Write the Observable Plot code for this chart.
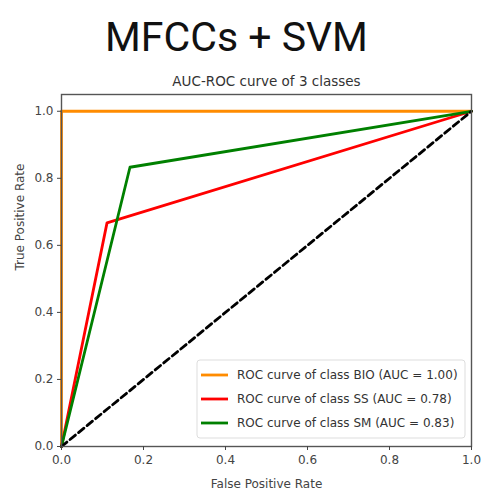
<!DOCTYPE html>
<html>
<head>
<meta charset="utf-8">
<script src="https://cdn.jsdelivr.net/npm/d3@7"></script>
<script src="https://cdn.jsdelivr.net/npm/@observablehq/plot@0.6"></script>
<style>
  body { margin: 0; background: #fff; }
</style>
</head>
<body>
<div id="chart"></div>
<script>
// ---- data ----
const classes = ["BIO", "SS", "SM"];
const aucs = [1.00, 0.78, 0.83];
const colors = ["darkorange", "red", "green"];
const fprBIO = [0, 0, 1];
const tprBIO = [0, 1, 1];
const fprSS = [0, 0.111, 1];
const tprSS = [0, 0.667, 1];
const fprSM = [0, 0.167, 1];
const tprSM = [0, 0.833, 1];
const chanceX = [0, 1];
const chanceY = [0, 1];
const tickValues = [0, 0.2, 0.4, 0.6, 0.8, 1.0];
const chartTitle = "MFCCs + SVM";
const plotTitle = "AUC-ROC curve of 3 classes";
const xLabel = "False Positive Rate";
const yLabel = "True Positive Rate";

const series = [
  {cls: classes[0], fpr: fprBIO, tpr: tprBIO},
  {cls: classes[1], fpr: fprSS, tpr: tprSS},
  {cls: classes[2], fpr: fprSM, tpr: tprSM}
];
const rows = series.flatMap((s, i) => s.fpr.map((f, j) => ({cls: s.cls, x: f, y: s.tpr[j], order: i})));
const diag = chanceX.map((v, i) => ({x: v, y: chanceY[i]}));

const font = "DejaVu Sans, sans-serif";
const svg = Plot.plot({
  width: 481,
  height: 495,
  marginLeft: 61,
  marginRight: 10,
  marginTop: 94,
  marginBottom: 49,
  style: {fontFamily: font, fontSize: "12px", color: "#444", background: "#fff"},
  x: {domain: [0, 1], ticks: tickValues, tickFormat: d3.format(".1f"), tickSize: 4, tickPadding: 4, label: null},
  y: {domain: [0, 1.05], ticks: tickValues, tickFormat: d3.format(".1f"), tickSize: 4, tickPadding: 4, label: null},
  color: {domain: classes, range: colors},
  marks: [
    Plot.line(rows, {x: "x", y: "y", z: "cls", stroke: "cls", strokeWidth: 2.8}),
    Plot.line(diag, {x: "x", y: "y", stroke: "black", strokeWidth: 2.8, strokeDasharray: "7,4"}),
    Plot.frame({stroke: "#555", strokeWidth: 1.4}),
    Plot.axisX({ticks: tickValues, tickFormat: d3.format(".1f"), tickSize: 4, tickPadding: 5, label: null, fill: "#444", stroke: "#444", fontSize: 12}),
    Plot.axisY({ticks: tickValues, tickFormat: d3.format(".1f"), tickSize: 4, tickPadding: 4, label: null, fill: "#444", stroke: "#444", fontSize: 12}),
    Plot.text([chartTitle], {frameAnchor: "top", text: d => d, dy: -44, dx: -30, fontSize: 41, fontFamily: "Roboto, sans-serif", fill: "#111", lineAnchor: "bottom"}),
    Plot.text([plotTitle], {frameAnchor: "top", text: d => d, dy: -9, fontSize: 13.5, fill: "#333", lineAnchor: "bottom"}),
    Plot.text([xLabel], {frameAnchor: "bottom", text: d => d, dy: 38, fontSize: 12, fill: "#444", lineAnchor: "middle"}),
    Plot.text([yLabel], {frameAnchor: "left", text: d => d, dx: -41, rotate: -90, fontSize: 12, fill: "#444", lineAnchor: "middle"})
  ]
});

// legend (matplotlib-style, lower right)
const xs = svg.scale("x"), ys = svg.scale("y");
const rowH = 24, boxW = 268, boxH = 78;
const bx = xs.apply(1) - 6 - boxW;
const by = ys.apply(0) - 8 - boxH;
const g = d3.select(svg).append("g").attr("font-family", font).attr("font-size", 12).attr("text-anchor", "start");
g.append("rect").attr("x", bx).attr("y", by).attr("width", boxW).attr("height", boxH)
  .attr("rx", 3).attr("fill", "white").attr("fill-opacity", 0.85).attr("stroke", "#ddd");
classes.forEach((c, i) => {
  const cy = by + 15 + i * rowH;
  g.append("line").attr("x1", bx + 4).attr("x2", bx + 31).attr("y1", cy).attr("y2", cy)
    .attr("stroke", colors[i]).attr("stroke-width", 2.8);
  g.append("text").attr("x", bx + 40).attr("y", cy).attr("dy", "0.35em").attr("fill", "#333")
    .attr("text-anchor", "start")
    .text(`ROC curve of class ${c} (AUC = ${aucs[i].toFixed(2)})`);
});

document.getElementById("chart").append(svg);
</script>
</body>
</html>
